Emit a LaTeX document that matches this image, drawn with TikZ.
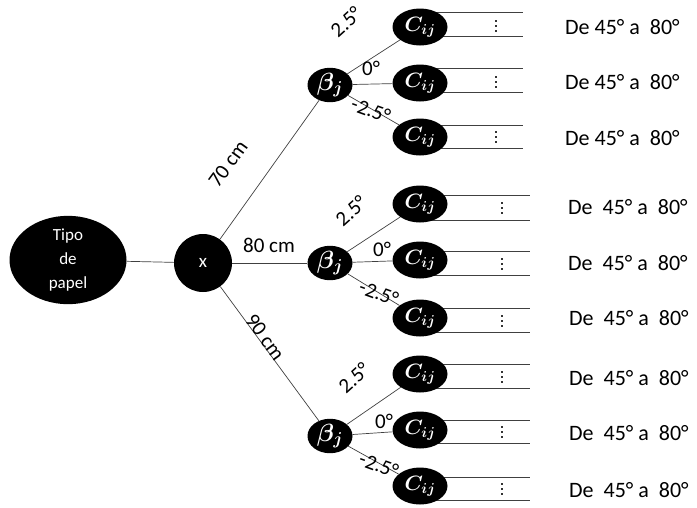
\documentclass[tikz,border=0pt]{standalone}
\usepackage{fontspec}
\usepackage{bm}
\setmainfont{Carlito}
\usetikzlibrary{shapes.geometric,calc}
\pgfdeclarelayer{bg}
\pgfsetlayers{bg,main}
\begin{document}
\begin{tikzpicture}[x=1pt,y=-1pt,
 blk/.style={ellipse,fill=black,text=white,inner sep=0pt},
 cnode/.style={blk,minimum width=55pt,minimum height=37pt,font=\fontsize{21}{24}\selectfont},
 bnode/.style={blk,minimum width=45pt,minimum height=34pt,font=\fontsize{23}{24}\selectfont},
 conn/.style={draw=black!75,line width=0.7pt},
 lbl/.style={font=\fontsize{21}{22}\selectfont,inner sep=0pt},
 rng/.style={font=\fontsize{22}{24}\selectfont,inner sep=0pt,anchor=west},
 dot/.style={fill=black!80,inner sep=0pt,minimum size=2pt,rectangle}
 ]
\useasboundingbox (0,0) rectangle (697,507);
\node[blk,minimum width=117pt,minimum height=86pt,align=center,font=\fontsize{17}{24}\selectfont] (tp) at (68,260) {Tipo\\de\\papel};
\node[blk,circle,minimum size=58pt,font=\fontsize{19}{20}\selectfont] (x) at (203,263) {x};
% beta nodes
\node[bnode] (b1) at (330,85) {$\bm{\beta_j}$};
\node[bnode] (b2) at (330,263) {$\bm{\beta_j}$};
\node[bnode] (b3) at (330,436) {$\bm{\beta_j}$};
% C nodes
\node[cnode] (c11) at (420,27) {$\bm{C_{ij}}$};
\node[cnode] (c12) at (420,83) {$\bm{C_{ij}}$};
\node[cnode] (c13) at (420,137) {$\bm{C_{ij}}$};
\node[cnode] (c21) at (420,204) {$\bm{C_{ij}}$};
\node[cnode] (c22) at (420,260) {$\bm{C_{ij}}$};
\node[cnode] (c23) at (420,318) {$\bm{C_{ij}}$};
\node[cnode] (c31) at (420,374) {$\bm{C_{ij}}$};
\node[cnode] (c32) at (420,430) {$\bm{C_{ij}}$};
\node[cnode] (c33) at (420,486) {$\bm{C_{ij}}$};
% connectors
\begin{pgfonlayer}{bg}
\draw[conn] (tp) -- (x);
\draw[conn] (x) -- (b1);
\draw[conn] (x) -- (b2);
\draw[conn] (x) -- (b3);
\foreach \g in {1,2,3}{
  \foreach \k in {1,2,3}{
    \draw[conn] (b\g) -- (c\g\k);
  }
}
% output lines: node, top dy, bottom dy, length
\foreach \n/\ta/\tb/\len in {c11/-15/9/103, c12/-15/9/103, c13/-12/11/103,
   c21/-9/16/110, c22/-9/15/110, c23/-10/14/110,
   c31/-10/14/110, c32/-10/13/110, c33/-9/14/110}{
  \draw[conn] ($(\n.center)+(0,\ta)$) -- ($(\n.center)+(\len,\ta)$);
  \draw[conn] ($(\n.center)+(0,\tb)$) -- ($(\n.center)+(\len,\tb)$);
}
\end{pgfonlayer}
% dots
\foreach \n/\dd/\dy in {c11/76/-1, c12/76/-1, c13/76/0, c21/82/4, c22/82/4, c23/82/3, c31/82/3, c32/82/2, c33/82/3}{
  \foreach \j in {-5,0,5}{
    \node[dot] at ($(\n.center)+(\dd,\dy+\j)$) {};
  }
}
% edge labels
\node[lbl,rotate=54] (l70) at (228,164) {70 cm};
\node[lbl] (l80) at (269,245) {80 cm};
\node[lbl,rotate=-54] (l90) at (265,337) {90 cm};
\node[lbl,rotate=42] (a11) at (346,22) {2.5°};
\node[lbl] (a12) at (371,68) {0°};
\node[lbl,rotate=-20] (a13) at (371,110) {-2.5°};
\node[lbl,rotate=42] (a21) at (351,211) {2.5°};
\node[lbl] (a22) at (382,249) {0°};
\node[lbl,rotate=-20] (a23) at (379,293) {-2.5°};
\node[lbl,rotate=42] (a31) at (354,378) {2.5°};
\node[lbl] (a32) at (384,421) {0°};
\node[lbl,rotate=-20] (a33) at (379,465) {-2.5°};
% ranges
\node[rng] (r11) at (565,27) {De 45°~a~~80°};
\node[rng] (r12) at (565,82) {De 45°~a~~80°};
\node[rng] (r13) at (565,138) {De 45°~a~~80°};
\node[rng] (r21) at (568,207) {De~~45°~a~~80°};
\node[rng] (r22) at (568,263) {De~~45°~a~~80°};
\node[rng] (r23) at (569,318) {De~~45°~a~~80°};
\node[rng] (r31) at (569,378) {De~~45°~a~~80°};
\node[rng] (r32) at (569,433) {De~~45°~a~~80°};
\node[rng] (r33) at (569,490) {De~~45°~a~~80°};
\end{tikzpicture}
\end{document}
